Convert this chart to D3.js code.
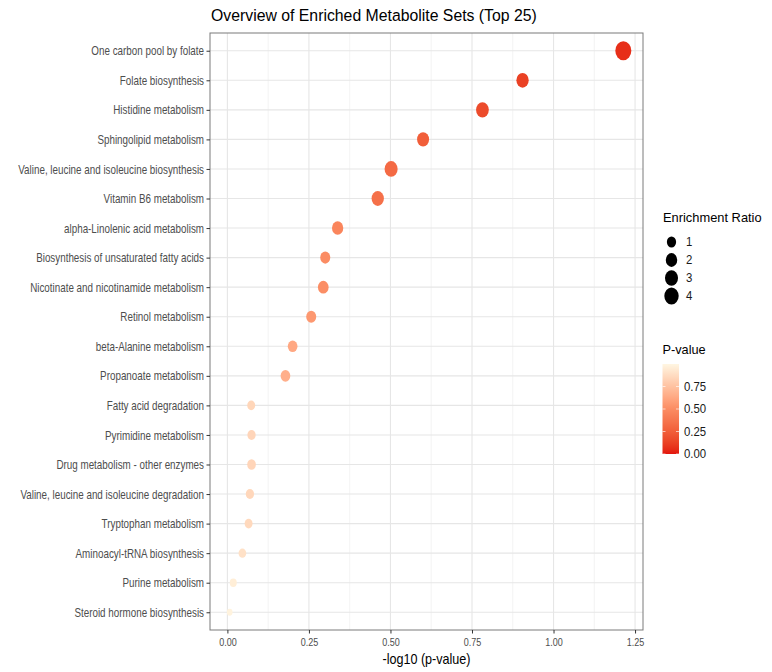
<!DOCTYPE html>
<html><head><meta charset="utf-8">
<script src="https://cdn.jsdelivr.net/npm/d3@7"></script>
<style>body{margin:0;background:#fff}svg{display:block}</style>
</head><body><svg id="c" width="772" height="672"></svg>
<script>
// ---------- data ----------
const chartTitle = "Overview of Enriched Metabolite Sets (Top 25)";
const xTitle = "-log10 (p-value)";
const pathways = [
  "One carbon pool by folate",
  "Folate biosynthesis",
  "Histidine metabolism",
  "Sphingolipid metabolism",
  "Valine, leucine and isoleucine biosynthesis",
  "Vitamin B6 metabolism",
  "alpha-Linolenic acid metabolism",
  "Biosynthesis of unsaturated fatty acids",
  "Nicotinate and nicotinamide metabolism",
  "Retinol metabolism",
  "beta-Alanine metabolism",
  "Propanoate metabolism",
  "Fatty acid degradation",
  "Pyrimidine metabolism",
  "Drug metabolism - other enzymes",
  "Valine, leucine and isoleucine degradation",
  "Tryptophan metabolism",
  "Aminoacyl-tRNA biosynthesis",
  "Purine metabolism",
  "Steroid hormone biosynthesis"
];
const logP = [1.214, 0.905, 0.782, 0.600, 0.502, 0.461, 0.338, 0.300, 0.294, 0.257,
              0.200, 0.178, 0.073, 0.074, 0.074, 0.069, 0.065, 0.046, 0.018, 0.007];
const enrichRatio = [5.5, 2.5, 2.8, 2.3, 3.0, 2.5, 1.9, 1.3, 1.6, 1.3,
                     1.17, 1.17, 0.65, 0.72, 0.83, 0.72, 0.65, 0.59, 0.48, 0.40];
const xTicks = [0, 0.25, 0.5, 0.75, 1.0, 1.25];
const xMinorTicks = [0.125, 0.375, 0.625, 0.875, 1.125];
const sizeLegendValues = [1, 2, 3, 4];
const pLegendTicks = [0, 0.25, 0.5, 0.75];
const sizeLegendTitle = "Enrichment Ratio";
const colorLegendTitle = "P-value";

const rows = pathways.map((p, i) => ({name: p, x: logP[i], er: enrichRatio[i], p: Math.pow(10, -logP[i])}));

// ---------- layout ----------
const FONT = "'Liberation Sans', Arial, Helvetica, sans-serif";
const panel = {left: 210, right: 643, top: 33, bottom: 630};
const svg = d3.select("#c");

const [xmin, xmax] = d3.extent(logP);
const pad = (xmax - xmin) * 0.05;
const x = d3.scaleLinear().domain([xmin - pad, xmax + pad]).range([panel.left, panel.right]);
const y = d3.scalePoint().domain(pathways).range([panel.top, panel.bottom]).padding(0.6);

const erMin = d3.min(enrichRatio), erMax = d3.max(enrichRatio);
const rScale = d3.scaleSqrt().domain([0, erMax - erMin]).range([2.85, 8]);
const rx = v => rScale(Math.max(0, v - erMin));
const ASPECT = 1.2;

const color = d3.scaleLinear().domain([0, 0.5, 1])
  .range(["#e3150d", "#fb8c63", "#fff6e2"]).interpolate(d3.interpolateLab);

// ---------- panel ----------
svg.append("rect").attr("x", panel.left).attr("y", panel.top)
  .attr("width", panel.right - panel.left).attr("height", panel.bottom - panel.top)
  .attr("fill", "#fff");

const grid = svg.append("g");
grid.selectAll(".vmin").data(xMinorTicks).join("line")
  .attr("x1", d => x(d)).attr("x2", d => x(d))
  .attr("y1", panel.top).attr("y2", panel.bottom)
  .attr("stroke", "#f0f0f0").attr("stroke-width", 0.8);
grid.selectAll(".vmaj").data(xTicks).join("line")
  .attr("x1", d => x(d)).attr("x2", d => x(d))
  .attr("y1", panel.top).attr("y2", panel.bottom)
  .attr("stroke", "#e6e6e6").attr("stroke-width", 1.1);
grid.selectAll(".hmaj").data(pathways).join("line")
  .attr("x1", panel.left).attr("x2", panel.right)
  .attr("y1", d => y(d)).attr("y2", d => y(d))
  .attr("stroke", "#e6e6e6").attr("stroke-width", 1.1);

// points
svg.append("g").selectAll("ellipse").data(rows).join("ellipse")
  .attr("cx", d => x(d.x)).attr("cy", d => y(d.name))
  .attr("rx", d => rx(d.er)).attr("ry", d => rx(d.er) * ASPECT)
  .attr("fill", d => color(d.p));

svg.append("rect").attr("x", panel.left).attr("y", panel.top)
  .attr("width", panel.right - panel.left).attr("height", panel.bottom - panel.top)
  .attr("fill", "none").attr("stroke", "#7a7a7a").attr("stroke-width", 1);

// ---------- axes ----------
const SX = 0.82;
const yAxis = svg.append("g").attr("transform", `translate(${panel.left},0)`)
  .call(d3.axisLeft(y).tickSize(3.5).tickPadding(2.5));
yAxis.select(".domain").remove();
yAxis.selectAll(".tick line").attr("stroke", "#333");
yAxis.selectAll(".tick text")
  .attr("x", -6 / SX).attr("dy", "0.34em")
  .attr("transform", `scale(${SX},1)`)
  .style("font-family", FONT).style("font-size", "12px").attr("fill", "#4d4d4d");

const xAxis = svg.append("g").attr("transform", `translate(0,${panel.bottom})`)
  .call(d3.axisBottom(x).tickValues(xTicks).tickFormat(d3.format(".2f")).tickSize(3.5).tickPadding(4.5));
xAxis.select(".domain").remove();
xAxis.selectAll(".tick line").attr("stroke", "#333");
xAxis.selectAll(".tick text")
  .attr("transform", `scale(${SX},1)`)
  .style("font-family", FONT).style("font-size", "11px").attr("fill", "#4d4d4d");

function stext(parent, str, tx, ty, size, sx, anchor, fill) {
  return parent.append("text")
    .attr("transform", `translate(${tx},${ty}) scale(${sx},1)`)
    .attr("text-anchor", anchor || "start")
    .style("font-family", FONT).style("font-size", size + "px")
    .attr("fill", fill || "#000").text(str);
}

stext(svg, xTitle, (panel.left + panel.right) / 2, 664, 14, 0.9, "middle", "#000");
stext(svg, chartTitle, panel.left + 1, 21, 16.3, 0.97, "start", "#000");

// ---------- size legend ----------
const lg = svg.append("g");
stext(lg, sizeLegendTitle, 663, 222, 13, 0.99, "start", "#000");
const keyY0 = 242, keyStep = 18;
sizeLegendValues.forEach((v, i) => {
  const cy = keyY0 + i * keyStep;
  lg.append("ellipse").attr("cx", 671.5).attr("cy", cy)
    .attr("rx", rx(v)).attr("ry", rx(v) * ASPECT).attr("fill", "#000");
  stext(lg, String(v), 686, cy + 4.3, 12, 0.95, "start", "#1a1a1a");
});

// ---------- colour legend ----------
stext(lg, colorLegendTitle, 662.5, 354, 13, 0.98, "start", "#000");
const cb = {x: 662.5, w: 16.5, top: 364, bottom: 454};
const cy = d3.scaleLinear().domain([0, 1]).range([cb.bottom, cb.top]);
const defs = svg.append("defs");
const grad = defs.append("linearGradient").attr("id", "pgrad")
  .attr("x1", 0).attr("y1", 1).attr("x2", 0).attr("y2", 0);
d3.range(0, 1.0001, 0.05).forEach(t => {
  grad.append("stop").attr("offset", t).attr("stop-color", color(t));
});
lg.append("rect").attr("x", cb.x).attr("y", cb.top).attr("width", cb.w)
  .attr("height", cb.bottom - cb.top).attr("fill", "url(#pgrad)");
pLegendTicks.forEach(t => {
  const yy = cy(t);
  lg.append("line").attr("x1", cb.x).attr("x2", cb.x + 3).attr("y1", yy).attr("y2", yy)
    .attr("stroke", "#fff").attr("stroke-width", 0.8).attr("opacity", 0.8);
  lg.append("line").attr("x1", cb.x + cb.w - 3).attr("x2", cb.x + cb.w).attr("y1", yy).attr("y2", yy)
    .attr("stroke", "#fff").attr("stroke-width", 0.8).attr("opacity", 0.8);
  stext(lg, d3.format(".2f")(t), 684, yy + 4.3, 12, 0.95, "start", "#1a1a1a");
});
</script>
</body></html>
